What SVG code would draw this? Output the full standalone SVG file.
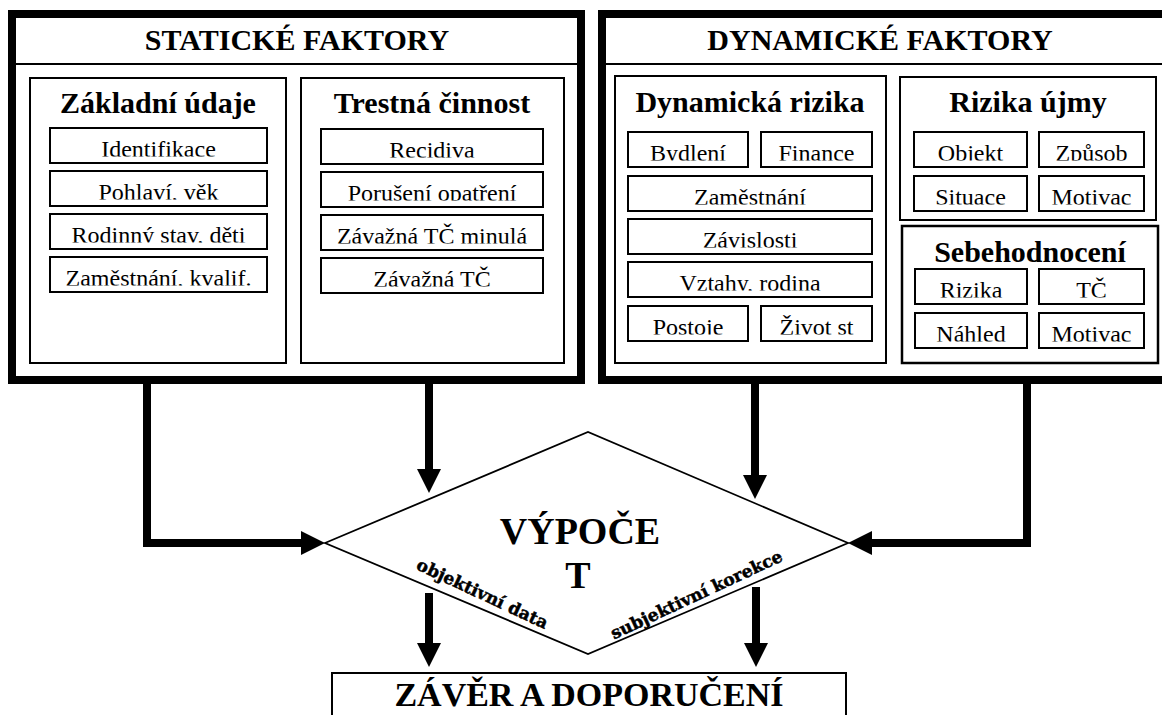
<svg xmlns="http://www.w3.org/2000/svg" width="1162" height="715" viewBox="0 0 1162 715">
<style>
.outer{fill:#fff;stroke:#000;stroke-width:8}
.pan{fill:#fff;stroke:#000;stroke-width:2}
.b{fill:#fff;stroke:#000;stroke-width:2}
.hl{stroke:#000;stroke-width:2}
.h{font-family:"Liberation Serif",serif;font-weight:bold;font-size:30px;text-anchor:middle}
.t{font-family:"Liberation Serif",serif;font-weight:bold;font-size:30px;text-anchor:middle}
.s{font-family:"Liberation Serif",serif;font-size:24px;text-anchor:middle}
.c{font-family:"Liberation Serif",serif;font-weight:bold;font-size:38px;text-anchor:middle}
.z{font-family:"Liberation Serif",serif;font-weight:bold;font-size:34px;text-anchor:middle}
.lbl{font-family:"DejaVu Serif",serif;font-weight:bold;font-size:17px;text-anchor:middle;stroke:#000;stroke-width:0.5}
.con{fill:none;stroke:#000;stroke-width:8}
</style>
<defs>
<marker id="ah" markerUnits="userSpaceOnUse" markerWidth="26" markerHeight="26" refX="0" refY="12" orient="auto" viewBox="0 0 26 24">
<path d="M0,0 L24,12 L0,24 Z" fill="#000"/>
</marker>
</defs>
<rect width="1162" height="715" fill="#fff"/>

<g id="static">
<rect class="outer" x="12" y="14" width="569" height="366"/>
<line class="hl" x1="16" y1="64" x2="577" y2="64"/>
<text class="h" x="297" y="50">STATICKÉ FAKTORY</text>
</g>

<g id="zakladni">
<rect class="pan" x="30" y="78" width="256" height="285"/>
<text class="t" x="158" y="113">Základní údaje</text>
<rect class="b" x="50" y="128" width="217" height="35"/>
<svg x="51" y="129" width="215" height="27.5" overflow="hidden"><text class="s" x="107.5" y="28">Identifikace</text></svg>
<rect class="b" x="50" y="171" width="217" height="35"/>
<svg x="51" y="172" width="215" height="27.5" overflow="hidden"><text class="s" x="107.5" y="28">Pohlaví, věk</text></svg>
<rect class="b" x="50" y="214" width="217" height="35"/>
<svg x="51" y="215" width="215" height="27.5" overflow="hidden"><text class="s" x="107.5" y="28">Rodinný stav, děti</text></svg>
<rect class="b" x="50" y="257" width="217" height="35"/>
<svg x="51" y="258" width="215" height="27.5" overflow="hidden"><text class="s" x="107.5" y="28">Zaměstnání, kvalif.</text></svg>
</g>

<g id="trestna">
<rect class="pan" x="301" y="78" width="263" height="285"/>
<text class="t" x="432" y="113">Trestná činnost</text>
<rect class="b" x="321" y="129" width="222" height="35"/>
<svg x="322" y="130" width="220" height="27.5" overflow="hidden"><text class="s" x="110" y="28">Recidiva</text></svg>
<rect class="b" x="321" y="172" width="222" height="35"/>
<svg x="322" y="173" width="220" height="27.5" overflow="hidden"><text class="s" x="110" y="28">Porušení opatření</text></svg>
<rect class="b" x="321" y="215" width="222" height="35"/>
<svg x="322" y="216" width="220" height="27.5" overflow="hidden"><text class="s" x="110" y="28">Závažná TČ minulá</text></svg>
<rect class="b" x="321" y="258" width="222" height="35"/>
<svg x="322" y="259" width="220" height="27.5" overflow="hidden"><text class="s" x="110" y="28">Závažná TČ</text></svg>
</g>

<g id="dynamic">
<rect class="outer" x="602" y="14" width="620" height="366"/>
<line class="hl" x1="606" y1="64" x2="1162" y2="64"/>
<text class="h" x="880" y="50">DYNAMICKÉ FAKTORY</text>
</g>

<g id="dynrizika">
<rect class="pan" x="615" y="76" width="271" height="287"/>
<text class="t" x="750" y="112">Dynamická rizika</text>
<rect class="b" x="628" y="132" width="120" height="35"/>
<svg x="629" y="133" width="118" height="27.5" overflow="hidden"><text class="s" x="59" y="28">Bydlení</text></svg>
<rect class="b" x="761" y="132" width="111" height="35"/>
<svg x="762" y="133" width="109" height="27.5" overflow="hidden"><text class="s" x="54.5" y="28">Finance</text></svg>
<rect class="b" x="628" y="176" width="244" height="35"/>
<svg x="629" y="177" width="242" height="27.5" overflow="hidden"><text class="s" x="121" y="28">Zaměstnání</text></svg>
<rect class="b" x="628" y="219" width="244" height="35"/>
<svg x="629" y="220" width="242" height="27.5" overflow="hidden"><text class="s" x="121" y="28">Závislosti</text></svg>
<rect class="b" x="628" y="262" width="244" height="35"/>
<svg x="629" y="263" width="242" height="27.5" overflow="hidden"><text class="s" x="121" y="28">Vztahy, rodina</text></svg>
<rect class="b" x="628" y="306" width="120" height="35"/>
<svg x="629" y="307" width="118" height="27.5" overflow="hidden"><text class="s" x="59" y="28">Postoje</text></svg>
<rect class="b" x="761" y="306" width="111" height="35"/>
<svg x="762" y="307" width="109" height="27.5" overflow="hidden"><text class="s" x="54.5" y="28">Život st</text></svg>
</g>

<g id="ujmy">
<rect class="pan" x="900" y="77" width="256" height="143"/>
<text class="t" x="1028" y="112">Rizika újmy</text>
<rect class="b" x="914" y="132" width="113" height="35"/>
<svg x="915" y="133" width="111" height="27.5" overflow="hidden"><text class="s" x="55.5" y="28">Objekt</text></svg>
<rect class="b" x="1039" y="132" width="105" height="35"/>
<svg x="1040" y="133" width="103" height="27.5" overflow="hidden"><text class="s" x="51.5" y="28">Způsob</text></svg>
<rect class="b" x="914" y="176" width="113" height="35"/>
<svg x="915" y="177" width="111" height="27.5" overflow="hidden"><text class="s" x="55.5" y="28">Situace</text></svg>
<rect class="b" x="1039" y="176" width="105" height="35"/>
<svg x="1040" y="177" width="103" height="27.5" overflow="hidden"><text class="s" x="51.5" y="28">Motivac</text></svg>
</g>

<g id="sebe">
<rect class="pan" x="902" y="226" width="256" height="137" style="stroke-width:2.5"/>
<text class="t" x="1030" y="262">Sebehodnocení</text>
<rect class="b" x="915" y="269" width="112" height="35"/>
<svg x="916" y="270" width="110" height="27.5" overflow="hidden"><text class="s" x="55" y="28">Rizika</text></svg>
<rect class="b" x="1039" y="269" width="105" height="35"/>
<svg x="1040" y="270" width="103" height="27.5" overflow="hidden"><text class="s" x="51.5" y="28">TČ</text></svg>
<rect class="b" x="915" y="313" width="112" height="35"/>
<svg x="916" y="314" width="110" height="27.5" overflow="hidden"><text class="s" x="55" y="28">Náhled</text></svg>
<rect class="b" x="1039" y="313" width="105" height="35"/>
<svg x="1040" y="314" width="103" height="27.5" overflow="hidden"><text class="s" x="51.5" y="28">Motivac</text></svg>
</g>

<g id="connectors">
<path class="con" d="M147,384 V543 H301" marker-end="url(#ah)"/>
<path class="con" d="M429,384 V469" marker-end="url(#ah)"/>
<path class="con" d="M755,384 V475" marker-end="url(#ah)"/>
<path class="con" d="M1027,384 V543 H872" marker-end="url(#ah)"/>
<path class="con" d="M429,593 V643" marker-end="url(#ah)"/>
<path class="con" d="M756,587 V643" marker-end="url(#ah)"/>
</g>

<g id="vypocet">
<polygon points="325,543 588,432 848,543 588,654" fill="#fff" stroke="#000" stroke-width="1.8"/>
<text class="c" x="580" y="544">VÝPOČE</text>
<text class="c" x="578" y="588">T</text>
<text class="lbl" transform="translate(480,599) rotate(25)">objektivní data</text>
<text class="lbl" transform="translate(699,600) rotate(-25)">subjektivní korekce</text>
</g>

<g id="zaver">
<rect x="332" y="673" width="514" height="80" fill="#fff" stroke="#000" stroke-width="2"/>
<text class="z" x="589" y="706">ZÁVĚR A DOPORUČENÍ</text>
</g>
</svg>
